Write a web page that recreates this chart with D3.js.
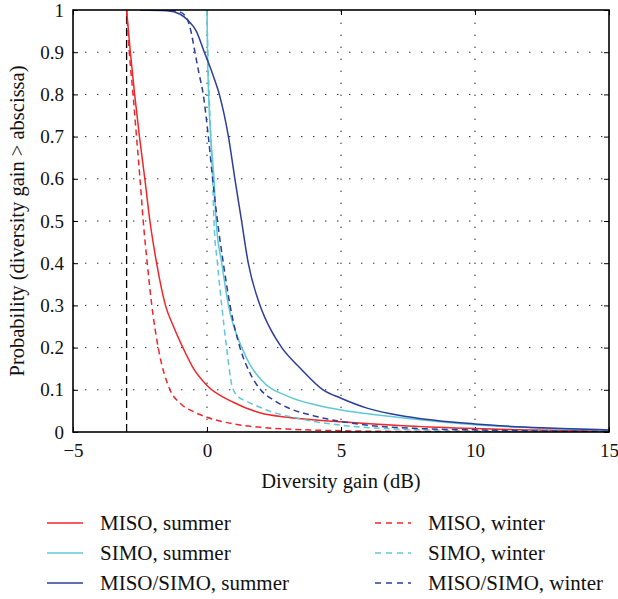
<!DOCTYPE html>
<meta charset="utf-8">
<html>
<head><title>diversity gain ccdf</title>
<script src="https://cdnjs.cloudflare.com/ajax/libs/d3/7.8.5/d3.min.js"></script>
<style>
    body { margin: 0; background: #fff; }
    text { font-family: "Liberation Serif", "Times New Roman", serif; fill: #111; }
    .frame { fill: none; stroke: #000; stroke-width: 1.6; }
    .grid line { stroke: #222; stroke-width: 1; stroke-dasharray: 1.4,10.6; }
    .curve { fill: none; stroke-width: 1.5; }
</style>
</head>
<body>
<div id="chart"></div>
<script>

// chart values
var xTicks = [-5, 0, 5, 10, 15];
var yTicks = [0, 0.1, 0.2, 0.3, 0.4, 0.5, 0.6, 0.7, 0.8, 0.9, 1];
var refLineX = -3;

var misoSummerX = [-3, -2.86, -2.7, -2.52, -2.32, -2.13, -1.88, -1.55, -1.25, -0.9, -0.5, 0, 1, 2, 3, 5, 7.5, 10, 15];
var misoSummerY = [1, 0.9, 0.8, 0.7, 0.6, 0.5, 0.4, 0.3, 0.25, 0.2, 0.15, 0.11, 0.07, 0.045, 0.035, 0.024, 0.014, 0.008, 0.003];

var misoWinterX = [-3, -2.9, -2.76, -2.63, -2.5, -2.38, -2.23, -2.06, -1.82, -1.38, -1, -0.5, 0, 1, 2, 3, 5, 8, 15];
var misoWinterY = [1, 0.9, 0.8, 0.7, 0.6, 0.5, 0.4, 0.3, 0.2, 0.1, 0.068, 0.048, 0.035, 0.019, 0.011, 0.007, 0.003, 0.001, 0];

var simoSummerX = [0, 0.02, 0.06, 0.14, 0.26, 0.34, 0.55, 0.8, 1.3, 1.6, 2, 3, 4, 5, 6, 7.5, 10, 12.5, 15];
var simoSummerY = [1, 0.9, 0.8, 0.7, 0.6, 0.5, 0.4, 0.3, 0.2, 0.16, 0.125, 0.085, 0.065, 0.052, 0.043, 0.032, 0.017, 0.009, 0.004];

var simoWinterX = [0, 0.03, 0.08, 0.14, 0.21, 0.26, 0.39, 0.55, 0.73, 0.95, 1.15, 1.5, 2, 2.5, 3.2, 4, 5, 7, 10, 15];
var simoWinterY = [1, 0.9, 0.8, 0.7, 0.6, 0.5, 0.4, 0.3, 0.2, 0.105, 0.085, 0.072, 0.058, 0.046, 0.035, 0.025, 0.016, 0.007, 0.003, 0.001];

var bothSummerX = [-2.5, -1.5, -1, -0.7, -0.4, -0.1, 0.2, 0.46, 0.8, 1.04, 1.29, 1.54, 1.98, 2.4, 2.79, 3.5, 4.33, 5, 6, 7.5, 10, 12.5, 15];
var bothSummerY = [1, 0.998, 0.99, 0.975, 0.95, 0.9, 0.85, 0.8, 0.7, 0.6, 0.5, 0.4, 0.3, 0.24, 0.2, 0.15, 0.1, 0.08, 0.056, 0.036, 0.019, 0.01, 0.005];

var bothWinterX = [-2.5, -1.5, -1, -0.75, -0.6, -0.45, -0.3, -0.14, 0.05, 0.21, 0.39, 0.61, 0.86, 1.23, 1.6, 2, 2.5, 3, 4, 5, 6, 8, 10, 15];
var bothWinterY = [1, 1, 0.995, 0.98, 0.95, 0.9, 0.85, 0.8, 0.7, 0.6, 0.5, 0.4, 0.3, 0.2, 0.14, 0.1, 0.075, 0.058, 0.038, 0.025, 0.016, 0.008, 0.005, 0.001];

var seriesNames = ["MISO, summer", "MISO, winter", "SIMO, summer", "SIMO, winter", "MISO/SIMO, summer", "MISO/SIMO, winter"];
var seriesX = [misoSummerX, misoWinterX, simoSummerX, simoWinterX, bothSummerX, bothWinterX];
var seriesY = [misoSummerY, misoWinterY, simoSummerY, simoWinterY, bothSummerY, bothWinterY];
var seriesColor = ["#f0262a", "#f0262a", "#5fc8d6", "#5fc8d6", "#2b3e98", "#2b3e98"];
var seriesDashed = [false, true, false, true, false, true];

var W = 618, H = 599;
var mLeft = 73, mRight = 609, mTop = 10, mBottom = 432;

var svg = d3.select("#chart").append("svg")
        .attr("width", W)
        .attr("height", H);

var x = d3.scaleLinear().domain([-5, 15]).range([mLeft, mRight]);
var y = d3.scaleLinear().domain([0, 1]).range([mBottom, mTop]);

// dotted grid
var grid = svg.append("g").attr("class", "grid");
grid.selectAll(".gx")
        .data(xTicks.slice(1, -1))
        .enter().append("line")
        .attr("x1", d => x(d)).attr("x2", d => x(d))
        .attr("y1", mBottom).attr("y2", mTop);
grid.selectAll(".gy")
        .data(yTicks.slice(1, -1))
        .enter().append("line")
        .attr("x1", mLeft).attr("x2", mRight)
        .attr("y1", d => y(d)).attr("y2", d => y(d));

// axes with inward ticks on all sides
var axB = d3.axisBottom(x).tickValues(xTicks).tickSize(-5).tickPadding(12).tickFormat(d => d < 0 ? "\u2212" + Math.abs(d) : d);
var axT = d3.axisTop(x).tickValues(xTicks).tickSize(-5).tickFormat("");
var axL = d3.axisLeft(y).tickValues(yTicks).tickSize(-5).tickPadding(9).tickFormat(d => d === 0 || d === 1 ? d : d3.format(".1f")(d));
var axR = d3.axisRight(y).tickValues(yTicks).tickSize(-5).tickFormat("");

[[axB, "translate(0," + mBottom + ")"], [axT, "translate(0," + mTop + ")"],
 [axL, "translate(" + mLeft + ",0)"], [axR, "translate(" + mRight + ",0)"]].forEach(function(a) {
    var g = svg.append("g").attr("transform", a[1]).call(a[0]);
    g.select(".domain").remove();
    g.selectAll("line").attr("stroke", "#000");
    g.selectAll("text").style("font-size", "19px").attr("fill", "#111");
});

// reference line at -3 dB
svg.append("line")
        .attr("x1", x(refLineX)).attr("x2", x(refLineX))
        .attr("y1", y(0)).attr("y2", y(1))
        .attr("stroke", "#000")
        .attr("stroke-width", 1.3)
        .attr("stroke-dasharray", "8,4");

var line = d3.line()
        .x(d => x(d[0]))
        .y(d => y(d[1]))
        .curve(d3.curveMonotoneX);

svg.append("clipPath").attr("id", "plotClip")
        .append("rect").attr("x", mLeft).attr("y", mTop)
        .attr("width", mRight - mLeft).attr("height", mBottom - mTop);

var curves = svg.append("g").attr("clip-path", "url(#plotClip)");
seriesNames.forEach(function(name, i) {
    curves.append("path")
            .datum(d3.zip(seriesX[i], seriesY[i]))
            .attr("class", "curve")
            .attr("d", line)
            .attr("stroke", seriesColor[i])
            .attr("stroke-dasharray", seriesDashed[i] ? "6,4" : null);
});

svg.append("rect")
        .attr("class", "frame")
        .attr("x", mLeft).attr("y", mTop)
        .attr("width", mRight - mLeft).attr("height", mBottom - mTop);

// axis titles
svg.append("text")
        .attr("x", (mLeft + mRight) / 2)
        .attr("y", 488)
        .attr("text-anchor", "middle")
        .style("font-size", "20.5px")
        .text("Diversity gain (dB)");

svg.append("text")
        .attr("transform", "translate(24," + (mTop + mBottom) / 2 + ") rotate(-90)")
        .attr("text-anchor", "middle")
        .style("font-size", "20.5px")
        .text("Probability (diversity gain > abscissa)");

// legend, two columns
var legend = svg.append("g");
seriesNames.forEach(function(name, i) {
    var col = i % 2, row = Math.floor(i / 2);
    var lx = col === 0 ? 47 : 375;
    var ly = 523 + row * 30;
    legend.append("line")
            .attr("x1", lx).attr("x2", lx + 36)
            .attr("y1", ly).attr("y2", ly)
            .attr("stroke", seriesColor[i])
            .attr("stroke-width", 1.5)
            .attr("stroke-dasharray", seriesDashed[i] ? "6,5" : null);
    legend.append("text")
            .attr("x", lx + 53)
            .attr("y", ly + 7)
            .style("font-size", "21px")
            .text(name);
});

</script>
</body>
</html>
